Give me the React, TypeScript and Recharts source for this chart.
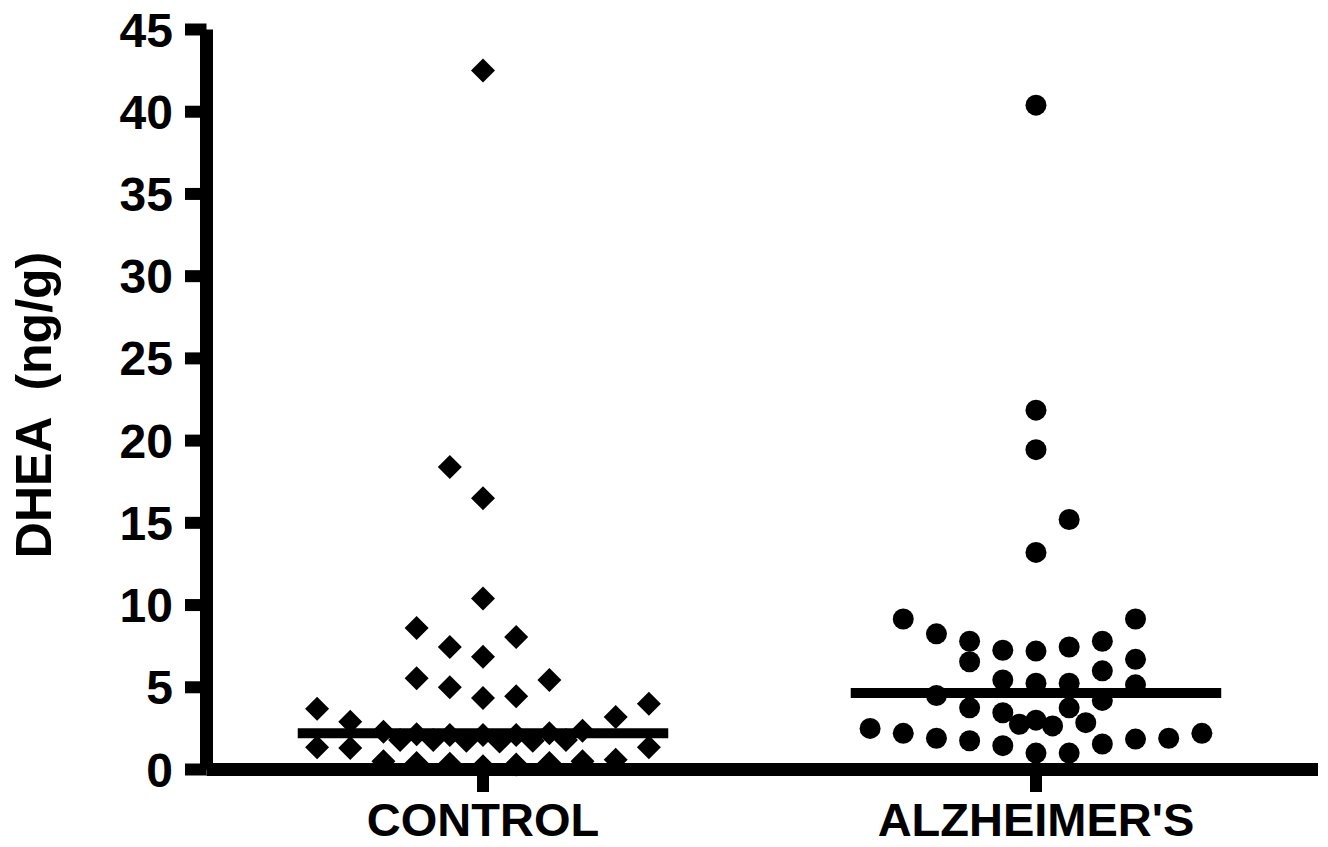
import { ScatterChart, Scatter, XAxis, YAxis, ReferenceLine, Label } from 'recharts';

const FONT = 'Arial, "Liberation Sans", sans-serif';

const categories = ['CONTROL', "ALZHEIMER'S"];
const yTicks = [0, 5, 10, 15, 20, 25, 30, 35, 40, 45];

// slot = horizontal column of the dot inside its group (0 = group centre)
const controlSlots = [
    0, -1, 0, 0, -2, 1, -1, 0, -2, 2, -1, 0, 1, 5, -5, 4, -4,
    -3, -2, -1, 0, 1, 2, 3,
    -2.5, -1.5, -0.5, 0.5, 1.5, 2.5,
    -5, -4, 5,
    -3, -2, -1, 0, 1, 2, 3, 4,
];
const controlValues = [
    42.5, 18.4, 16.5, 10.4, 8.6, 8.05, 7.45, 6.85, 5.55, 5.45, 5.0, 4.35, 4.45, 4.0, 3.7, 3.2, 2.9,
    2.3, 2.15, 2.1, 2.1, 2.1, 2.2, 2.35,
    1.8, 1.8, 1.75, 1.7, 1.75, 1.8,
    1.35, 1.3, 1.35,
    0.5, 0.4, 0.35, 0.2, 0.3, 0.4, 0.5, 0.6,
];

const alzheimerSlots = [
    0, 0, 0, 1, 0,
    -4, 3, -3, -2, 2, -1, 0, 1, -2, 3, 2,
    -1, 0, 1, 3, -3, 2, 1, -2, -1,
    -0.5, 0, 0.5, 1.5,
    -5, -4, -3, -2, -1, 0, 1, 2, 3, 4, 5,
];
const alzheimerValues = [
    40.4, 21.85, 19.45, 15.2, 13.2,
    9.15, 9.15, 8.25, 7.8, 7.8, 7.25, 7.2, 7.45, 6.55, 6.7, 6.0,
    5.45, 5.25, 5.25, 5.15, 4.5, 4.2, 3.75, 3.75, 3.45,
    2.75, 3.0, 2.65, 2.85,
    2.5, 2.2, 1.9, 1.75, 1.45, 1.0, 1.0, 1.55, 1.85, 1.9, 2.2,
];

const medians = [2.2, 4.65];

const SLOT = 0.06; // width of one dot column in axis units
const HALF_LINE = 0.335; // half length of the median bar

const controlData = controlSlots.map((s, i) => ({ x: 1 + s * SLOT, y: controlValues[i] }));
const alzheimerData = alzheimerSlots.map((s, i) => ({ x: 2 + s * SLOT, y: alzheimerValues[i] }));

const Diamond = (props: any) => {
    const { cx, cy } = props;
    const r = 12;
    return <polygon points={`${cx},${cy - r} ${cx + r},${cy} ${cx},${cy + r} ${cx - r},${cy}`} fill="#000" />;
};

const Dot = (props: any) => {
    const { cx, cy } = props;
    return <circle cx={cx} cy={cy} r={10.5} fill="#000" />;
};

export default function App() {
    return (
        <div style={{ position: 'absolute', left: 0, top: 0, background: '#fff' }}>
            <ScatterChart width={1328} height={847} margin={{ top: 29.5, right: 10, left: 0, bottom: 0 }}>
                <XAxis
                    type="number"
                    dataKey="x"
                    domain={[0.5, 2.51]}
                    ticks={[1, 2]}
                    interval={0}
                    tickFormatter={(v: number) => categories[v - 1]}
                    height={77.5}
                    tickSize={22.5}
                    tickMargin={11}
                    axisLine={{ stroke: '#000', strokeWidth: 13 }}
                    tickLine={{ stroke: '#000', strokeWidth: 12 }}
                    tick={{ fill: '#000', fontSize: 47, fontWeight: 'bold', fontFamily: FONT }}
                />
                <YAxis
                    type="number"
                    dataKey="y"
                    domain={[0, 45]}
                    ticks={yTicks}
                    interval={0}
                    width={206.5}
                    tickSize={21.5}
                    tickMargin={12}
                    axisLine={{ stroke: '#000', strokeWidth: 13 }}
                    tickLine={{ stroke: '#000', strokeWidth: 12 }}
                    tick={{ fill: '#000', fontSize: 48, fontWeight: 'bold', fontFamily: FONT }}
                >
                    <Label
                        content={() => (
                            <text
                                x={51}
                                y={405}
                                transform="rotate(-90 51 405)"
                                textAnchor="middle"
                                fontSize={50}
                                fontWeight="bold"
                                fontFamily={FONT}
                                fill="#000"
                                style={{ whiteSpace: 'pre' }}
                            >
                                DHEA  (ng/g)
                            </text>
                        )}
                    />
                </YAxis>
                <Scatter data={controlData} shape={Diamond} isAnimationActive={false} />
                <Scatter data={alzheimerData} shape={Dot} isAnimationActive={false} />
                {medians.map((m, i) => (
                    <ReferenceLine
                        key={categories[i]}
                        segment={[{ x: i + 1 - HALF_LINE, y: m }, { x: i + 1 + HALF_LINE, y: m }]}
                        stroke="#000"
                        strokeWidth={10}
                    />
                ))}
            </ScatterChart>
        </div>
    );
}
